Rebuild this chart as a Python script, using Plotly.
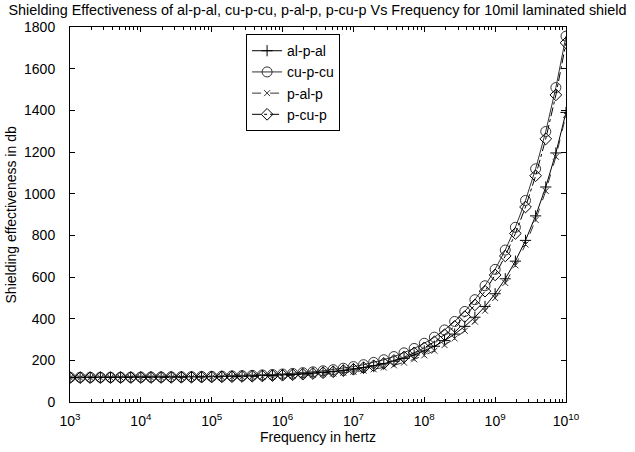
import plotly.graph_objects as go

# Frequencies (Hz): 50 log-spaced points from 1e3 to 1e10
exponents = [3 + 7 * i / 49 for i in range(50)]
freq = [10 ** e for e in exponents]

al_p_al = [118.4, 118.5, 118.6, 118.7, 118.8, 118.9, 119.1, 119.3, 119.5, 119.8,
           120.1, 120.5, 120.9, 121.4, 122.0, 122.7, 123.6, 124.6, 125.8, 127.1,
           128.8, 130.7, 133.0, 135.6, 138.8, 142.5, 146.9, 152.1, 158.2, 165.3,
           173.8, 183.8, 195.5, 209.4, 225.7, 245.0, 267.7, 294.5, 326.0, 363.2,
           407.0, 458.7, 519.6, 591.4, 676.0, 775.8, 893.4, 1032.0, 1195.4, 1390.0]
cu_p_cu = [118.5, 118.6, 118.7, 118.8, 119.0, 119.2, 119.4, 119.6, 119.9, 120.3,
           120.7, 121.2, 121.7, 122.4, 123.2, 124.1, 125.2, 126.5, 128.0, 129.8,
           131.9, 134.4, 137.3, 140.8, 144.9, 149.7, 155.3, 162.0, 169.9, 179.1,
           190.1, 202.9, 218.1, 236.0, 257.1, 282.0, 311.3, 345.9, 386.6, 434.6,
           491.2, 558.0, 636.6, 729.3, 838.6, 967.4, 1119.3, 1298.3, 1509.3, 1756.0]
p_al_p = [116.4, 116.5, 116.6, 116.7, 116.8, 116.9, 117.0, 117.1, 117.3, 117.5,
          117.7, 117.9, 118.2, 118.5, 118.9, 119.4, 120.0, 120.7, 121.5, 122.4,
          123.5, 124.9, 126.5, 128.4, 130.6, 133.3, 136.5, 140.4, 145.0, 150.5,
          157.0, 165.6, 176.0, 189.0, 205.0, 224.0, 246.0, 273.0, 305.0, 342.0,
          386.0, 438.0, 499.0, 571.0, 656.0, 756.0, 874.0, 1013.0, 1177.0, 1378.0]
p_cu_p = [116.5, 116.6, 116.7, 116.8, 117.0, 117.1, 117.2, 117.4, 117.6, 117.8,
          118.1, 118.4, 118.8, 119.2, 119.8, 120.5, 121.3, 122.3, 123.5, 124.9,
          126.6, 128.5, 130.8, 133.5, 136.7, 140.5, 145.0, 150.5, 157.0, 164.5,
          174.0, 185.5, 199.5, 216.0, 236.0, 260.0, 289.0, 323.0, 363.0, 410.0,
          466.0, 532.0, 610.0, 701.0, 809.0, 936.0, 1086.0, 1263.0, 1474.0, 1724.0]

series_names = ["al-p-al", "cu-p-cu", "p-al-p", "p-cu-p"]
x_tick_vals = [1e3, 1e4, 1e5, 1e6, 1e7, 1e8, 1e9, 1e10]
x_tick_text = ["10<sup>3</sup>", "10<sup>4</sup>", "10<sup>5</sup>", "10<sup>6</sup>",
               "10<sup>7</sup>", "10<sup>8</sup>", "10<sup>9</sup>", "10<sup>10</sup>"]
y_tick_vals = [0, 200, 400, 600, 800, 1000, 1200, 1400, 1600, 1800]

styles = [
    dict(symbol="cross-thin-open", size=8, dash="solid", color="black"),
    dict(symbol="circle-open", size=10, dash="solid", color="#333333"),
    dict(symbol="x-thin-open", size=6, dash="dash", color="#333333"),
    dict(symbol="diamond-open", size=9, dash="dashdot", color="black"),
]

fig = go.Figure()
for name, vals, st in zip(series_names, [al_p_al, cu_p_cu, p_al_p, p_cu_p], styles):
    fig.add_trace(go.Scatter(
        x=freq, y=vals, name=name, mode="lines+markers",
        line=dict(color=st["color"], width=1, dash=st["dash"]),
        marker=dict(symbol=st["symbol"], size=st["size"], color=st["color"],
                    line=dict(color=st["color"], width=1)),
    ))

font = "Liberation Sans, Arial, sans-serif"
fig.update_layout(
    width=635, height=452,
    margin=dict(l=70, r=69, t=27, b=48),
    paper_bgcolor="white", plot_bgcolor="white",
    font=dict(family=font, size=14, color="black"),
    title=dict(text="Shielding Effectiveness of al-p-al, cu-p-cu, p-al-p, p-cu-p Vs Frequency for 10mil laminated shield",
               x=0.5, xanchor="center", y=0.99, yanchor="top",
               font=dict(size=14.4, family=font, color="black")),
    showlegend=True,
    legend=dict(x=0.355, y=0.981, xanchor="left", yanchor="top",
                bordercolor="black", borderwidth=1, bgcolor="white",
                font=dict(size=14, family=font), tracegroupgap=0,
                itemwidth=30),
    xaxis=dict(type="log", range=[3, 10], tickvals=x_tick_vals, ticktext=x_tick_text,
               ticks="inside", ticklen=5, tickcolor="black", showgrid=False,
               showline=True, linecolor="black", linewidth=1, mirror="ticks",
               zeroline=False, ticklabelstandoff=6,
               minor=dict(ticks="inside", ticklen=3, tickcolor="black",
                          tickvals=[m * 10 ** d for d in range(3, 10) for m in range(2, 10)]),
               title=dict(text="Frequency in hertz", standoff=1,
                          font=dict(size=14, family=font)),
               tickfont=dict(size=14, family=font)),
    yaxis=dict(range=[0, 1800], tickvals=y_tick_vals,
               ticks="inside", ticklen=5, tickcolor="black", showgrid=False,
               showline=True, linecolor="black", linewidth=1, mirror="ticks",
               zeroline=False, ticklabelstandoff=11,
               tickfont=dict(size=14, family=font)),
    annotations=[dict(text="Shielding effectiveness in db", textangle=-90,
                      xref="paper", yref="paper", x=-0.119, y=0.5,
                      xanchor="center", yanchor="middle", showarrow=False,
                      font=dict(size=14, family=font, color="black"))],
)

fig.write_html("out.html")
